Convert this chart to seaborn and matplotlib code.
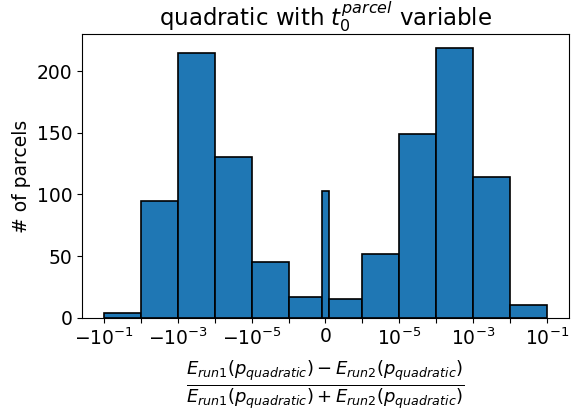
import numpy as np
import pandas as pd
import matplotlib
matplotlib.use("Agg")
import matplotlib.pyplot as plt
import seaborn as sns

# bin edges (symmetric log bins) and counts per bin
bin_edges = [-1e-1, -1e-2, -1e-3, -1e-4, -1e-5, -1e-6, -1e-7,
             1e-7, 1e-6, 1e-5, 1e-4, 1e-3, 1e-2, 1e-1]
counts = [4, 95, 215, 130, 45, 17, 103, 15, 52, 149, 219, 114, 10]

# x ticks (every decade) and their labels (every other decade labelled)
tick_values = [-1e-1, -1e-2, -1e-3, -1e-4, -1e-5, -1e-6, 0,
               1e-6, 1e-5, 1e-4, 1e-3, 1e-2, 1e-1]
tick_labels = [r"$-10^{-1}$", "", r"$-10^{-3}$", "", r"$-10^{-5}$", "", r"$0$",
               "", r"$10^{-5}$", "", r"$10^{-3}$", "", r"$10^{-1}$"]

edges = np.array(bin_edges)
centers = (edges[:-1] + edges[1:]) / 2
df = pd.DataFrame({"x": centers, "n": counts})

fig, ax = plt.subplots(figsize=(5.71, 4.11), dpi=100)
sns.histplot(data=df, x="x", weights="n", bins=list(bin_edges), ax=ax,
             color="#1f77b4", edgecolor="black", linewidth=1.2, alpha=1.0)
ax.set_xscale("symlog", linthresh=1e-6, linscale=0.9)
ax.margins(x=0.05)
ax.set_xticks(tick_values, labels=tick_labels)
ax.xaxis.set_minor_locator(matplotlib.ticker.NullLocator())
ax.set_title(r"quadratic with $t_0^{parcel}$ variable", fontsize=16.5, pad=5)
ax.set_ylabel("# of parcels", fontsize=13.5)
ax.set_xlabel(r"$\frac{E_{run1}(p_{quadratic})-E_{run2}(p_{quadratic})}"
              r"{E_{run1}(p_{quadratic})+E_{run2}(p_{quadratic})}$", fontsize=18.5,
              labelpad=7)
ax.tick_params(labelsize=13.5)
fig.subplots_adjust(left=0.1436, right=0.9965, top=0.917, bottom=0.227)
fig.savefig("out.png", dpi=100)
